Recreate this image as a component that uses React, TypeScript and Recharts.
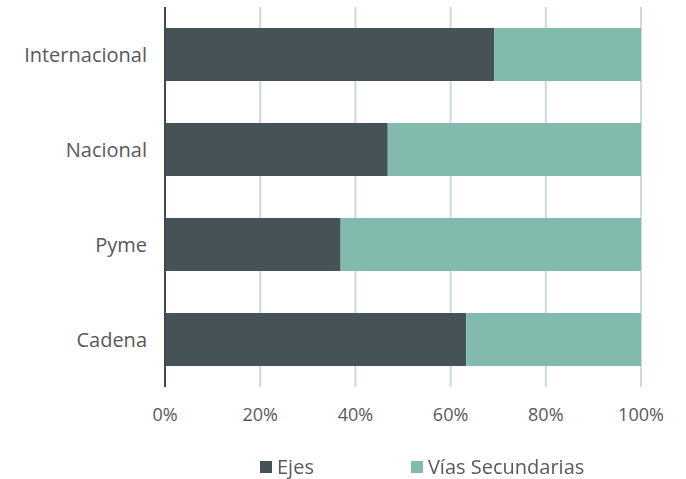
import { Bar, BarChart, CartesianGrid, Legend, XAxis, YAxis } from "recharts";

const CATEGORIES = ["Internacional", "Nacional", "Pyme", "Cadena"];
const EJES = [69.2, 46.8, 36.9, 63.3];
const VIAS = [30.8, 53.2, 63.1, 36.7];
const X_TICKS = [0, 20, 40, 60, 80, 100];

const DARK = "#455357";
const TEAL = "#82bbad";
const TEXT = "#58595b";
const FONT = "'Open Sans', Roboto, sans-serif";

const data = CATEGORIES.map((name, i) => ({ name, ejes: EJES[i], vias: VIAS[i] }));

function LegendContent() {
  const items = [
    { label: "Ejes", color: DARK },
    { label: "Vías Secundarias", color: TEAL },
  ];
  return (
    <div style={{ display: "flex", paddingTop: 18, paddingLeft: 260, gap: 97, fontFamily: FONT }}>
      {items.map((it) => (
        <div key={it.label} style={{ display: "flex", alignItems: "center", gap: 5 }}>
          <span style={{ width: 12, height: 12, background: it.color, display: "inline-block" }} />
          <span style={{ fontSize: 20, color: TEXT, lineHeight: "24px" }}>{it.label}</span>
        </div>
      ))}
    </div>
  );
}

export default function App() {
  return (
    <div style={{ position: "fixed", top: 0, left: 0, width: 686, height: 479, background: "#fff" }}>
      <BarChart
        width={686}
        height={479}
        data={data}
        layout="vertical"
        barCategoryGap="22%"
        margin={{ top: 7, right: 45, bottom: 0, left: 0 }}
      >
        <CartesianGrid horizontal={false} stroke="#d0d7d7" strokeWidth={2} />
        <XAxis
          type="number"
          domain={[0, 100]}
          ticks={X_TICKS}
          tickFormatter={(v) => `${v}%`}
          axisLine={false}
          tickLine={false}
          tickMargin={15}
          height={50}
          tick={{ fill: TEXT, fontSize: 18, fontFamily: FONT }}
        />
        <YAxis
          type="category"
          dataKey="name"
          width={165}
          axisLine={{ stroke: "#3f4a4d", strokeWidth: 2 }}
          tickLine={false}
          tickSize={0}
          tickMargin={18}
          tick={{ fill: TEXT, fontSize: 20, fontFamily: FONT }}
        />
        <Legend verticalAlign="bottom" height={42} content={<LegendContent />} />
        <Bar dataKey="ejes" name="Ejes" stackId="a" fill={DARK} isAnimationActive={false} />
        <Bar dataKey="vias" name="Vías Secundarias" stackId="a" fill={TEAL} isAnimationActive={false} />
      </BarChart>
    </div>
  );
}
